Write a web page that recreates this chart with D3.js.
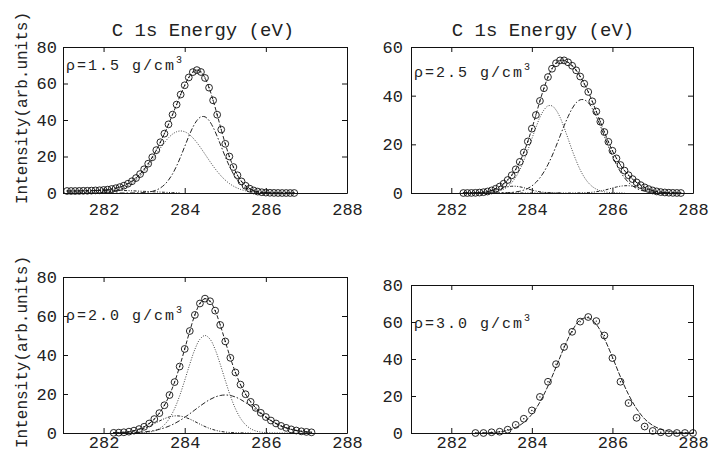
<!DOCTYPE html>
<html>
<head>
<meta charset="utf-8">
<script src="https://cdn.jsdelivr.net/npm/d3@7"></script>
<style>
  body { margin: 0; background: #fff; }
  svg { display: block; font-family: "Liberation Mono", "Courier New", monospace; }
</style>
</head>
<body>
<svg id="chart" width="709" height="452"></svg>
<script>
// x ticks shared by all four panels
const xTicks = [282, 284, 286, 288];

// rho = 1.5 g/cm3
const energy15 = [281.1,281.2,281.3,281.4,281.5,281.6,281.7,281.8,281.9,
    282.0,282.1,282.2,282.3,282.4,282.5,282.6,282.7,282.8,282.9,
    283.0,283.1,283.2,283.3,283.4,283.5,283.6,283.7,283.8,283.9,
    284.0,284.1,284.2,284.3,284.4,284.5,284.6,284.7,284.8,284.9,
    285.0,285.1,285.2,285.3,285.4,285.5,285.6,285.7,285.8,285.9,
    286.0,286.1,286.2,286.3,286.4,286.5,286.6,286.7];
const measured15 = [1.1,1.1,1.1,1.15,1.21,1.23,1.31,1.41,1.49,
    1.66,1.85,2.19,2.62,3.22,4.01,5.08,6.44,8.2,10.38,
    12.99,16.06,19.57,23.49,27.82,32.53,37.61,42.94,48.45,53.95,
    59.03,63.31,66.24,67.34,66.3,63.03,57.71,50.78,42.9,34.74,
    26.95,20.01,14.24,9.72,6.34,3.98,2.39,1.39,0.78,0.42,
    0.22,0.11,0.05,0.02,0,0,0,0];
const dotted15 = [0,0,0,0,0.01,0.03,0.06,0.11,0.19,
    0.31,0.5,0.79,1.22,1.82,2.66,3.77,5.22,7.05,9.27,
    11.86,14.79,17.98,21.29,24.56,27.61,30.25,32.27,33.56,34,
    33.56,32.27,30.25,27.61,24.56,21.29,17.98,14.79,11.86,9.27,
    7.05,5.22,3.77,2.66,1.82,1.22,0.79,0.5,0.31,0.19,
    0.11,0.06,0.03,0.01,0,0,0,0];
const dashDot15 = [0,0,0,0,0,0,0,0,0,
    0,0,0,0,0,0,0.01,0.02,0.05,0.11,
    0.23,0.47,0.89,1.6,2.76,4.52,7.06,10.47,14.79,19.9,
    25.47,31.04,35.99,39.73,41.74,41.74,39.73,35.99,31.04,25.47,
    19.9,14.79,10.47,7.06,4.52,2.76,1.6,0.89,0.47,0.23,
    0.11,0.05,0.02,0.01,0,0,0,0];
const dashDotDot15 = [1.1,1.1,1.1,1.15,1.2,1.2,1.25,1.3,1.3,
    1.35,1.35,1.4,1.4,1.4,1.35,1.3,1.2,1.1,1.0,
    0.9,0.8,0.7,0.6,0.5,0.4,0.3,0.2,0.1,0.05];

// rho = 2.5 g/cm3
const energy25 = [282.3,282.4,282.5,282.6,282.7,282.8,282.9,283.0,283.1,283.2,
    283.3,283.4,283.5,283.6,283.7,283.8,283.9,284.0,284.1,284.2,
    284.3,284.4,284.5,284.6,284.7,284.8,284.9,285.0,285.1,285.2,
    285.3,285.4,285.5,285.6,285.7,285.8,285.9,286.0,286.1,286.2,
    286.3,286.4,286.5,286.6,286.7,286.8,286.9,287.0,287.1,287.2,
    287.3,287.4,287.5,287.6,287.7];
const measured25 = [0,0,0.03,0.07,0.18,0.34,0.62,1.06,1.73,2.64,
    3.82,5.34,7.27,9.72,12.8,16.66,21.19,26.44,32.04,37.83,
    43.05,47.65,51.07,53.33,54.5,54.5,53.7,52.3,50.42,47.87,
    44.92,41.54,37.67,33.5,29.3,25.05,21.04,17.37,14.23,11.5,
    9.21,7.31,5.71,4.36,3.24,2.32,1.6,1.04,0.65,0.38,
    0.22,0.12,0.05,0.02,0];
const dotted25 = [0,0,0,0,0.03,0.06,0.12,0.25,0.48,0.9,
    1.58,2.66,4.26,6.52,9.52,13.3,17.6,22.3,26.9,31.1,
    34.1,35.8,35.8,34.1,31.1,26.9,22.3,17.6,13.3,9.52,
    6.52,4.26,2.66,1.58,0.9,0.48,0.25,0.12,0.06,0.03,0];
const dashDot25 = [0,0,0,0,0,0,0,0.01,0.02,0.04,
    0.07,0.13,0.24,0.43,0.73,1.19,1.89,2.91,4.33,6.23,
    8.67,11.7,15.2,19.2,23.4,27.6,31.4,34.7,37.1,38.3,
    38.3,37.1,34.7,31.4,27.6,23.4,19.2,15.2,11.7,8.67,
    6.23,4.33,2.91,1.89,1.19,0.73,0.43,0.24,0.13,0.07,
    0.04,0.02,0.01,0,0];
const lowSide25 = [0,0,0.03,0.07,0.15,0.28,0.5,0.81,1.23,1.7,
    2.17,2.55,2.77,2.77,2.55,2.17,1.7,1.23,0.81,0.5,
    0.28,0.15,0.07,0.03,0];
const highSide25 = [0,0,0,0,0,0,0,0,0,0,
    0,0,0,0,0,0,0,0,0,0,
    0,0,0,0,0,0,0,0,0.02,0.05,
    0.1,0.18,0.31,0.52,0.8,1.17,1.59,2.05,2.47,2.8,
    2.98,2.98,2.8,2.47,2.05,1.59,1.17,0.8,0.52,0.31,
    0.18,0.1,0.05,0.02,0];

// rho = 2.0 g/cm3
const energy20 = [282.25,282.375,282.5,282.625,282.75,282.875,283,283.125,283.25,283.375,
    283.5,283.625,283.75,283.875,284,284.125,284.25,284.375,284.5,284.625,
    284.75,284.875,285,285.125,285.25,285.375,285.5,285.625,285.75,285.875,
    286,286.125,286.25,286.375,286.5,286.625,286.75,286.875,287,287.125];
const measured20 = [0.09,0.19,0.38,0.69,1.22,2.01,3.2,4.87,7.13,10.19,
    14.23,19.46,26.09,34.09,43.11,52.3,60.55,66.42,68.91,67.57,
    62.75,55.4,46.96,38.55,31.05,24.82,19.88,15.98,12.88,10.34,
    8.21,6.4,4.89,3.63,2.64,1.86,1.28,0.86,0.56,0.35];
const dotted20 = [0,0,0,0,0.03,0.07,0.19,0.47,1.05,2.2,
    4.24,7.55,12.47,19.06,26.97,35.3,42.85,48.1,50,48.1,
    42.85,35.3,26.97,19.06,12.47,7.55,4.24,2.2,1.05,0.47,
    0.19,0.07,0.03,0,0,0,0,0,0,0];
const dashDot20 = [0.02,0.04,0.08,0.13,0.22,0.35,0.56,0.86,1.28,1.86,
    2.64,3.63,4.86,6.33,8.02,9.87,11.83,13.78,15.61,17.21,
    18.45,19.23,19.5,19.23,18.45,17.21,15.61,13.78,11.83,9.87,
    8.02,6.33,4.86,3.63,2.64,1.86,1.28,0.86,0.56,0.35];
const dashDotDot20 = [0.07,0.15,0.3,0.56,0.97,1.59,2.45,3.54,4.8,6.13,
    7.35,8.28,8.76,8.7,8.12,7.13,5.87,4.54,3.3,2.26,
    1.45,0.87,0.49,0.26,0.13,0.06,0.03,0];

// rho = 3.0 g/cm3
const energy30 = [282.6,282.8,283.0,283.2,283.4,283.6,283.8,284.0,284.2,284.4,
    284.6,284.8,285.0,285.2,285.4,285.6,285.8,286.0,286.2,286.4,
    286.6,286.8,287.0,287.2,287.4,287.6,287.8,288.0];
const measured30 = [0,0,0.4,0.7,1.8,4.4,7.7,12.2,19.5,27.7,
    37.2,46.5,54.7,60.2,62.7,60.5,52.7,40.5,27.7,16.2,
    8.2,3.5,1.1,0.4,0,0,0,0];
const fit30 = [0.03,0.09,0.25,0.62,1.4,2.9,5.7,10.1,16.7,25.4,
    35.6,46.2,55.3,61.1,62.3,58.7,51.0,41.0,30.3,20.8,
    13.1,7.6,4.1,2.0,0.94,0.4,0.16,0.06];

// line styles
const styles = {
    envelope: "4,2",
    fit: "5,1.5",
    dotted: "1,1.5",
    dashDot: "5,2,1.5,2",
    dashDotDot: "3,1.5,1,1.5,1,1.5"
};

const svg = d3.select("#chart");

function pairs(xs, ys) {
    return ys.map((v, i) => [xs[i], v]);
}

function drawPanel(p) {
    const x = d3.scaleLinear().domain([281, 288]).range([p.left, p.right]);
    const y = d3.scaleLinear().domain([0, p.yMax]).range([p.bottom, p.top]);

    const clipId = "clip" + p.id;
    svg.append("clipPath").attr("id", clipId)
        .append("rect")
        .attr("x", p.left).attr("y", p.top)
        .attr("width", p.right - p.left).attr("height", p.bottom - p.top);

    // Axes, ticks pointing inward on all four sides
    const bottom = svg.append("g")
        .attr("transform", `translate(0,${p.bottom})`)
        .call(d3.axisBottom(x).tickValues(xTicks).tickSizeInner(-5).tickSizeOuter(0)
            .tickPadding(p.xPad).tickFormat(d3.format("d")));
    const top = svg.append("g")
        .attr("transform", `translate(0,${p.top})`)
        .call(d3.axisTop(x).tickValues(xTicks).tickSizeInner(-5).tickSizeOuter(0).tickFormat(""));
    const left = svg.append("g")
        .attr("transform", `translate(${p.left},0)`)
        .call(d3.axisLeft(y).tickValues(p.yTicks).tickSizeInner(-5).tickSizeOuter(0)
            .tickPadding(p.yPad));
    const right = svg.append("g")
        .attr("transform", `translate(${p.right},0)`)
        .call(d3.axisRight(y).tickValues(p.yTicks).tickSizeInner(-5).tickSizeOuter(0).tickFormat(""));

    [bottom, top, left, right].forEach(a => {
        a.attr("font-family", null).attr("font-size", 17);
        a.selectAll("text").attr("fill", "#222");
        a.selectAll("path, line").attr("stroke", "#111").attr("stroke-width", 1);
    });

    const plot = svg.append("g").attr("clip-path", `url(#${clipId})`);
    const line = d3.line()
        .x(d => x(d[0]))
        .y(d => y(d[1]))
        .curve(d3.curveCatmullRom);

    p.lines.forEach(s => {
        plot.append("path")
            .datum(pairs(s.x, s.y))
            .attr("fill", "none")
            .attr("stroke", s.color || "#222")
            .attr("stroke-width", 1)
            .attr("stroke-dasharray", s.dash)
            .attr("d", line);
    });

    // measured points: open circle with a centre dot
    const pts = svg.append("g").selectAll("g.pt")
        .data(pairs(p.pointsX, p.pointsY))
        .enter().append("g")
        .attr("class", "pt")
        .attr("transform", d => `translate(${x(d[0])},${y(d[1])})`);
    pts.append("circle")
        .attr("r", 3.4)
        .attr("fill", "none")
        .attr("stroke", "#111")
        .attr("stroke-width", 0.9);
    pts.append("circle")
        .attr("r", 0.7)
        .attr("fill", "#111");

    // density label
    const lab = svg.append("text")
        .attr("x", p.left + 3)
        .attr("y", p.top + p.labelDy)
        .attr("font-size", 15)
        .attr("fill", "#222")
        .style("letter-spacing", "2px")
        .text(p.label);
    lab.append("tspan")
        .attr("dy", -7)
        .attr("font-size", 10)
        .text("3");

    if (p.title) {
        svg.append("text")
            .attr("x", (p.left + p.right) / 2 + p.titleShift)
            .attr("y", 36)
            .attr("text-anchor", "middle")
            .attr("font-size", 19)
            .attr("fill", "#222")
            .text(p.title);
    }
    if (p.yLabel) {
        svg.append("text")
            .attr("transform", `translate(27,${p.yLabelY}) rotate(-90)`)
            .attr("text-anchor", "middle")
            .attr("font-size", 16)
            .attr("fill", "#222")
            .text(p.yLabel);
    }
}

drawPanel({
    id: 1, left: 63, right: 347, top: 47, bottom: 193,
    yMax: 80, yTicks: [0, 20, 40, 60, 80], xPad: 10, yPad: 6,
    label: "\u03c1=1.5 g/cm", labelDy: 23,
    title: "C 1s Energy (eV)", titleShift: -2,
    yLabel: "Intensity(arb.units)", yLabelY: 108,
    pointsX: energy15, pointsY: measured15,
    lines: [
        { x: energy15, y: dashDotDot15, dash: styles.dashDotDot },
        { x: energy15, y: dotted15, dash: styles.dotted, color: "#444" },
        { x: energy15, y: dashDot15, dash: styles.dashDot },
        { x: energy15, y: measured15, dash: styles.envelope }
    ]
});

drawPanel({
    id: 2, left: 411, right: 693, top: 47, bottom: 193,
    yMax: 60, yTicks: [0, 20, 40, 60], xPad: 10, yPad: 8,
    label: "\u03c1=2.5 g/cm", labelDy: 30,
    title: "C 1s Energy (eV)", titleShift: -9,
    pointsX: energy25, pointsY: measured25,
    lines: [
        { x: energy25, y: lowSide25, dash: styles.dashDotDot },
        { x: energy25, y: highSide25, dash: styles.dashDotDot },
        { x: energy25, y: dotted25, dash: styles.dotted, color: "#444" },
        { x: energy25, y: dashDot25, dash: styles.dashDot },
        { x: energy25, y: measured25, dash: styles.envelope }
    ]
});

drawPanel({
    id: 3, left: 63, right: 347, top: 277, bottom: 433,
    yMax: 80, yTicks: [0, 20, 40, 60, 80], xPad: 3, yPad: 6,
    label: "\u03c1=2.0 g/cm", labelDy: 43,
    yLabel: "Intensity(arb.units)", yLabelY: 352,
    pointsX: energy20, pointsY: measured20,
    lines: [
        { x: energy20, y: dashDotDot20, dash: styles.dashDotDot },
        { x: energy20, y: dotted20, dash: styles.dotted, color: "#444" },
        { x: energy20, y: dashDot20, dash: styles.dashDot },
        { x: energy20, y: measured20, dash: styles.envelope }
    ]
});

drawPanel({
    id: 4, left: 411, right: 693, top: 285, bottom: 433,
    yMax: 80, yTicks: [0, 20, 40, 60, 80], xPad: 3, yPad: 8,
    label: "\u03c1=3.0 g/cm", labelDy: 43,
    pointsX: energy30, pointsY: measured30,
    lines: [
        { x: energy30, y: fit30, dash: styles.fit }
    ]
});
</script>
</body>
</html>
